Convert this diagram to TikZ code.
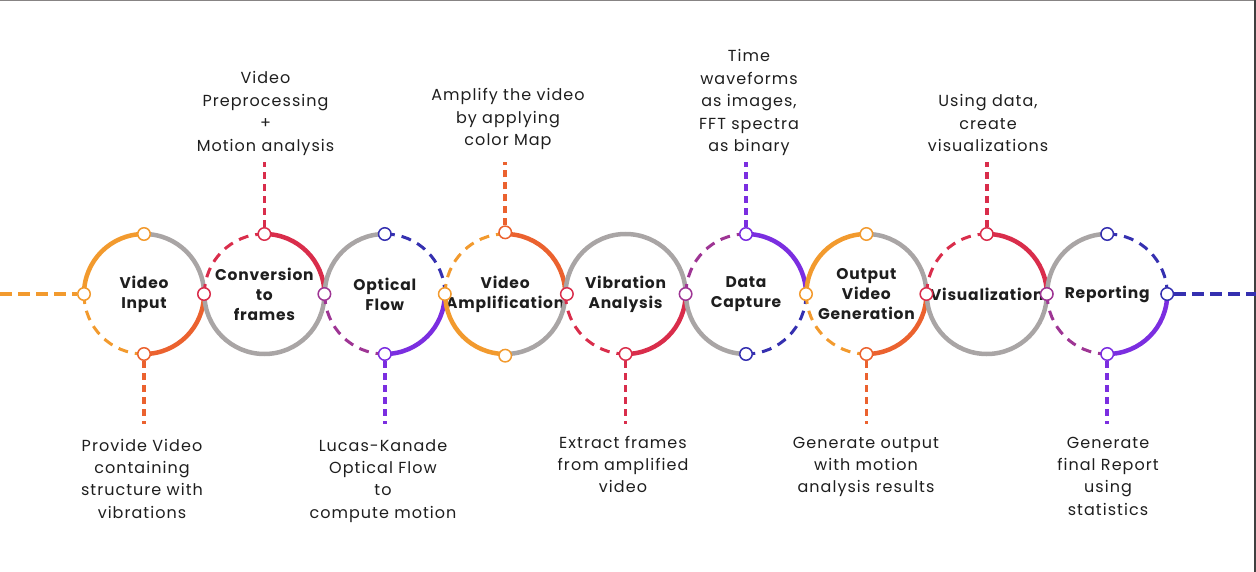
\documentclass[tikz,border=0pt]{standalone}
\usepackage{fontspec}
\setmainfont{Poppins}
\newfontfamily\descfont{Poppins}[LetterSpace=6.5]
\newfontfamily\ttlfont{Poppins}[LetterSpace=5]
\definecolor{corange}{HTML}{F29A2E}
\definecolor{cored}{HTML}{EB622F}
\definecolor{ccrim}{HTML}{D92D4B}
\definecolor{cmag}{HTML}{9E3594}
\definecolor{cpurp}{HTML}{7B2EE0}
\definecolor{cblue}{HTML}{3530B0}
\definecolor{cgray}{HTML}{A9A5A5}
\definecolor{ink}{HTML}{1E1E1E}
\newcommand\arcq[4]{\draw[#4] ([shift={(#2:60)}]#1.center) arc[start angle=#2, end angle=#3, radius=60];}
\begin{document}
\begin{tikzpicture}[x=1pt,y=1pt,
  ring/.style={circle, draw, line width=1.5pt, fill=white, minimum size=12.5pt, inner sep=0pt},
  sarc/.style={line width=4.5pt},
  darc/.style={line width=3pt, dash pattern=on 10pt off 7pt},
  hconn/.style={line width=3.3pt, dash pattern=on 12pt off 6pt},
  vconn/.style={line width=3.5pt, dash pattern=on 7pt off 5pt},
  big/.style={circle, minimum size=120pt, inner sep=0pt, outer sep=0pt, align=center, text=ink,
    font=\ttlfont\bfseries\fontsize{15.5}{20}\selectfont},
  desc/.style={align=center, text=ink, anchor=base, inner sep=0pt,
    font=\descfont\fontsize{16}{22.4}\selectfont}]
\useasboundingbox (0,0) rectangle (1256,-572);
\draw[cgray!80!black, line width=1.5pt] (0,-0.5) -- (1256,-0.5);
\draw[black!75, line width=2pt] (1255,0) -- (1255,-572);

% main circles
\node[big] (C1) at (144,-294) {Video\\Input};
\node[big] (C2) at (264.4,-294) {Conversion\\to\\frames};
\node[big] (C3) at (384.8,-294) {Optical\\Flow};
\node[big] (C4) at (505.2,-294) {Video\\Amplification};
\node[big] (C5) at (625.6,-294) {Vibration\\Analysis};
\node[big] (C6) at (746,-294) {Data\\Capture};
\node[big] (C7) at (866.4,-294) {Output\\Video\\Generation};
\node[big] (C8) at (986.8,-294) {Visualization};
\node[big] (C9) at (1107.2,-294) {Reporting};

% arcs
\arcq{C1}{180}{90}{sarc,corange}\arcq{C1}{90}{0}{sarc,cgray}\arcq{C1}{0}{-90}{sarc,cored}\arcq{C1}{180}{270}{darc,corange}
\arcq{C2}{180}{90}{darc,ccrim}\arcq{C2}{90}{0}{sarc,ccrim}\arcq{C2}{0}{-180}{sarc,cgray}
\arcq{C3}{180}{90}{sarc,cgray}\arcq{C3}{90}{0}{darc,cblue}\arcq{C3}{0}{-90}{sarc,cpurp}\arcq{C3}{180}{270}{darc,cmag}
\arcq{C4}{180}{90}{darc,corange}\arcq{C4}{90}{0}{sarc,cored}\arcq{C4}{0}{-90}{sarc,cgray}\arcq{C4}{180}{270}{sarc,corange}
\arcq{C5}{180}{0}{sarc,cgray}\arcq{C5}{0}{-90}{sarc,ccrim}\arcq{C5}{180}{270}{darc,ccrim}
\arcq{C6}{180}{90}{darc,cmag}\arcq{C6}{90}{0}{sarc,cpurp}\arcq{C6}{0}{-90}{darc,cblue}\arcq{C6}{180}{270}{sarc,cgray}
\arcq{C7}{180}{90}{sarc,corange}\arcq{C7}{90}{0}{sarc,cgray}\arcq{C7}{0}{-90}{sarc,cored}\arcq{C7}{180}{270}{darc,corange}
\arcq{C8}{180}{90}{darc,ccrim}\arcq{C8}{90}{0}{sarc,ccrim}\arcq{C8}{0}{-180}{sarc,cgray}
\arcq{C9}{180}{90}{sarc,cgray}\arcq{C9}{90}{0}{darc,cblue}\arcq{C9}{0}{-90}{sarc,cpurp}\arcq{C9}{180}{270}{darc,cmag}

% horizontal ends
\coordinate (Lend) at (0,-294);
\coordinate (Rend) at (1256,-294);

% connector end points
\coordinate (E1) at (144,-424);
\coordinate (E2) at (264.4,-162);
\coordinate (E3) at (384.8,-424);
\coordinate (E4) at (505.2,-162);
\coordinate (E5) at (625.6,-424);
\coordinate (E6) at (746,-162);
\coordinate (E7) at (866.4,-424);
\coordinate (E8) at (986.8,-162);
\coordinate (E9) at (1107.2,-424);

% ring nodes
\node[ring, draw=corange] (N0) at (C1.west) {};
\node[ring, draw=ccrim] (N1) at (C1.east) {};
\node[ring, draw=cmag] (N2) at (C2.east) {};
\node[ring, draw=corange] (N3) at (C3.east) {};
\node[ring, draw=ccrim] (N4) at (C4.east) {};
\node[ring, draw=cmag] (N5) at (C5.east) {};
\node[ring, draw=corange] (N6) at (C6.east) {};
\node[ring, draw=ccrim] (N7) at (C7.east) {};
\node[ring, draw=cmag] (N8) at (C8.east) {};
\node[ring, draw=cblue] (N9) at (C9.east) {};

\node[ring, draw=corange] (T1) at (C1.north) {};
\node[ring, draw=cored] (B1) at (C1.south) {};
\node[ring, draw=ccrim] (T2) at (C2.north) {};
\node[ring, draw=cblue] (T3) at (C3.north) {};
\node[ring, draw=cpurp] (B3) at (C3.south) {};
\node[ring, draw=cored] (T4) at (C4.north) {};
\node[ring, draw=corange] (B4) at (C4.south) {};
\node[ring, draw=ccrim] (B5) at (C5.south) {};
\node[ring, draw=cpurp] (T6) at (C6.north) {};
\node[ring, draw=cblue] (B6) at (C6.south) {};
\node[ring, draw=corange] (T7) at (C7.north) {};
\node[ring, draw=cored] (B7) at (C7.south) {};
\node[ring, draw=ccrim] (T8) at (C8.north) {};
\node[ring, draw=cblue] (T9) at (C9.north) {};
\node[ring, draw=cpurp] (B9) at (C9.south) {};

% connectors
\draw[hconn, corange] (Lend) -- (N0);
\draw[hconn, cblue] (N9) -- (Rend);
\draw[vconn, cored] (B1) -- (E1);
\draw[vconn, ccrim] (T2) -- (E2);
\draw[vconn, cpurp] (B3) -- (E3);
\draw[vconn, cored] (T4) -- (E4);
\draw[vconn, ccrim] (B5) -- (E5);
\draw[vconn, cpurp] (T6) -- (E6);
\draw[vconn, cored] (B7) -- (E7);
\draw[vconn, ccrim] (T8) -- (E8);
\draw[vconn, cpurp] (B9) -- (E9);

% labels (anchor = baseline of last line)
\node[desc] (L1) at (142,-518.2) {Provide Video\\containing\\structure with\\vibrations};
\node[desc] (L2) at (265.5,-151.2) {Video\\Preprocessing\\+\\Motion analysis};
\node[desc] (L3) at (383,-518.2) {Lucas-Kanade\\Optical Flow\\to\\compute motion};
\node[desc] (L4) at (508,-145.8) {Amplify the video\\by applying\\color Map};
\node[desc] (L5) at (623,-492.8) {Extract frames\\from amplified\\video};
\node[desc] (L6) at (749,-151.6) {Time\\waveforms\\as images,\\FFT spectra\\as binary};
\node[desc] (L7) at (866,-492.8) {Generate output\\with motion\\analysis results};
\node[desc] (L8) at (988,-151.8) {Using data,\\create\\visualizations};
\node[desc] (L9) at (1108,-515.2) {Generate\\final Report\\using\\statistics};
\end{tikzpicture}
\end{document}
